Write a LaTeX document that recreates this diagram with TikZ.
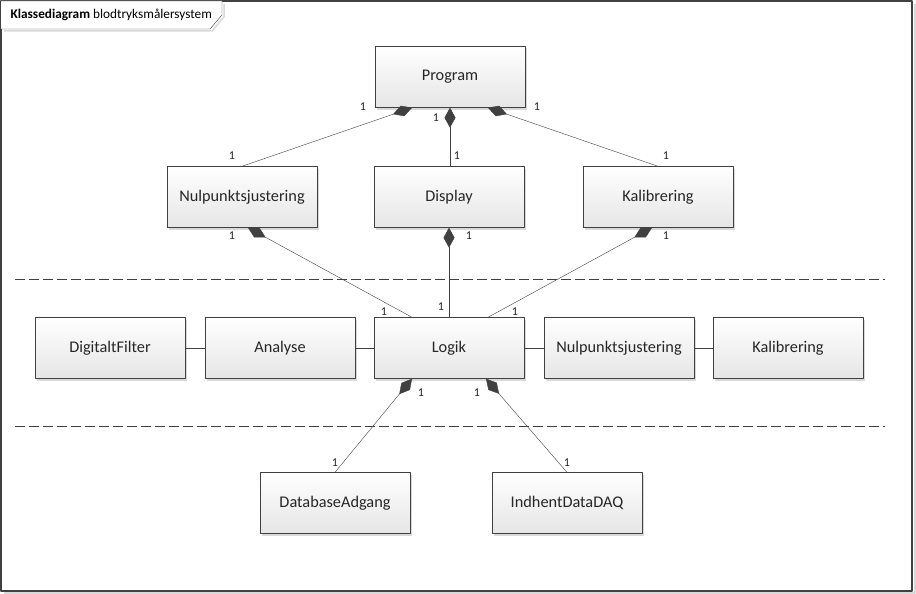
\documentclass[tikz,border=0pt]{standalone}
\usepackage{fontspec}
\setmainfont{Carlito}
\usetikzlibrary{arrows.meta,shadows}
\definecolor{umlline}{HTML}{404040}
\begin{document}
\begin{tikzpicture}[x=1pt, y=-1pt, line join=round,
	klasse/.style={draw=umlline, top color=white, bottom color=black!10, minimum width=150pt, minimum height=61pt, inner sep=0pt, text=black!85, font=\fontsize{16.3}{19}\selectfont, drop shadow={shadow xshift=2pt, shadow yshift=-2pt, fill=black!15, opacity=1}},
	komp/.style={draw=umlline, {Diamond[length=20pt, width=11pt, fill=umlline]}-},
	mult/.style={font=\fontsize{12}{14}\selectfont, text=black!85, inner sep=0pt}]
	\useasboundingbox (0,0) rectangle (916,594);
	% ramme
	\draw[black!15, line width=2pt] (915,4)--(915,593)--(4,593);
	\draw[umlline, line width=1.5pt, fill=white] (1,1) rectangle (912,591);
	\draw[black!15, line width=1.5pt] (224,4)--(224,17)--(212,31)--(4,31);
	\draw[umlline, fill=white] (1,1)--(222,1)--(222,15)--(210,29)--(1,29);
	\node[anchor=west, font=\fontsize{13.3}{15}\selectfont] (titel) at (7,15) {\textbf{Klassediagram} blodtryksmålersystem};
	% lag
	\draw[umlline, dash pattern=on 10pt off 4pt] (15,279)--(885,279) (15,426)--(885,426);
	% klasser
	\node[klasse] (prog) at (450,77) {Program};
	\node[klasse] (nul1) at (242,197) {Nulpunktsjustering};
	\node[klasse] (disp) at (449,197) {Display};
	\node[klasse] (kal1) at (658,197) {Kalibrering};
	\node[klasse] (dig) at (110,348) {DigitaltFilter};
	\node[klasse] (ana) at (280,348) {Analyse};
	\node[klasse] (logik) at (449,348) {Logik};
	\node[klasse] (nul2) at (619,348) {Nulpunktsjustering};
	\node[klasse] (kal2) at (788,348) {Kalibrering};
	\node[klasse] (db) at (335,503) {DatabaseAdgang};
	\node[klasse] (daq) at (567,503) {IndhentDataDAQ};
	% forbindelser
	\draw[komp] ([xshift=-38pt]prog.south) -- (nul1.north);
	\draw[komp] (prog.south) -- (prog.south |- disp.north);
	\draw[komp] ([xshift=38pt]prog.south) -- (kal1.north);
	\draw[komp] ([xshift=6pt]nul1.south) -- ([xshift=-37pt]logik.north);
	\draw[komp] (disp.south) -- (disp.south |- logik.north);
	\draw[komp] ([xshift=-6pt]kal1.south) -- ([xshift=39pt]logik.north);
	\draw[komp] ([xshift=-37pt]logik.south) -- (db.north);
	\draw[komp] ([xshift=37pt]logik.south) -- (daq.north);
	\draw[umlline] (dig) -- (ana) (ana) -- (logik) (logik) -- (nul2) (nul2) -- (kal2);
	% multipliciteter
	\foreach \x/\y [count=\i] in {363/107, 232/156, 436/118, 457/156, 537/107, 666/156, 232/236, 384/312,
		469/236, 441/307, 666/236, 515/312, 421/393, 335/463, 477/393, 567/463}
		\node[mult] (m\i) at (\x,\y) {1};
\end{tikzpicture}
\end{document}
